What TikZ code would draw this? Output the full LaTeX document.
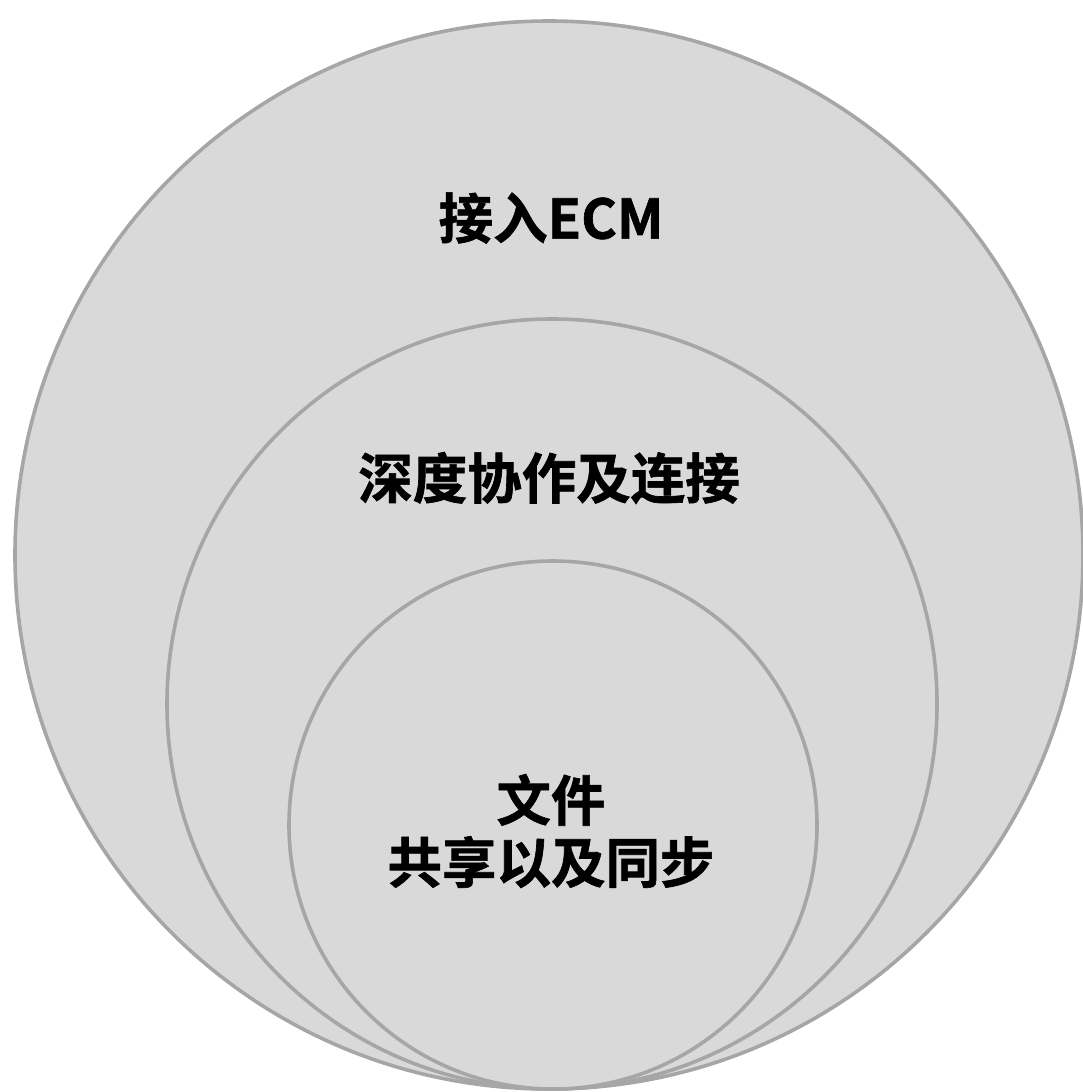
\documentclass[tikz,border=0pt]{standalone}
\usepackage{fontspec}
\newfontfamily\cjk{Noto Sans CJK SC}[BoldFont={Noto Sans CJK SC Bold},BoldFeatures={FakeBold=1.2}]
\begin{document}
\begin{tikzpicture}[x=1pt,y=-1pt,
  ring/.style={draw=black!35,fill=black!15,line width=3.6pt},
  label/.style={font=\cjk\bfseries\fontsize{54.5}{62}\selectfont,text=black,align=center,inner sep=0pt}]
\useasboundingbox (0,0) rectangle (1083,1092);
\draw[ring] (549,555) circle (534);
\draw[ring] (552,704) circle (385);
\draw[ring] (553,825) circle (264);
\node[label] (outer) at (551,218) {接入ECM};
\node[label] (middle) at (549,478) {深度协作及连接};
\node[label] (inner) at (551,831) {文件\\共享以及同步};
\end{tikzpicture}
\end{document}
